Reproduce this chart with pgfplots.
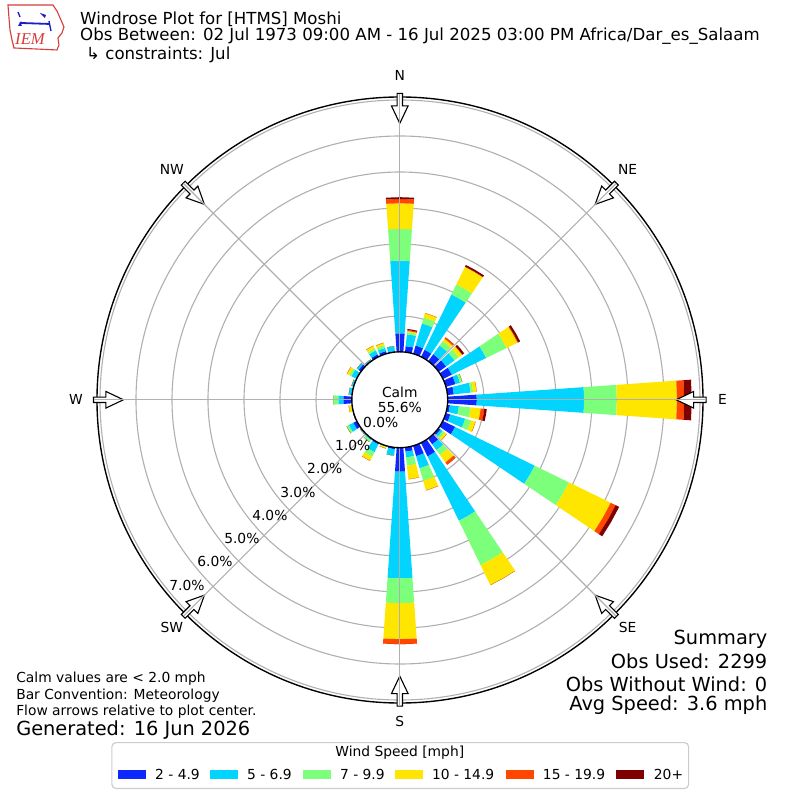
\documentclass[border=0pt]{standalone}
\usepackage{fontspec}
\setmainfont{DejaVu Sans}
\newfontfamily\logofont{Liberation Serif}
\usepackage{pgfplots}
\pgfplotsset{compat=1.18}
\usepackage{pgfplotstable}
\usepgfplotslibrary{polar}

\definecolor{bin1}{RGB}{13,40,255}
\definecolor{bin2}{RGB}{0,212,255}
\definecolor{bin3}{RGB}{124,255,122}
\definecolor{bin4}{RGB}{255,230,0}
\definecolor{bin5}{RGB}{255,71,0}
\definecolor{bin6}{RGB}{127,0,0}
\definecolor{ringgray}{RGB}{176,176,176}
\definecolor{logored}{RGB}{214,60,60}
\definecolor{logoblue}{RGB}{30,30,200}

% cumulative frequency [%] per direction, bins 2-4.9 ... 20+ mph
\pgfplotstableread{
dir c1   c2   c3   c4   c5   c6
0   0.52 2.54 3.42 4.13 4.25 4.30
10  0.17 0.50 0.56 0.59 0.62 0.65
20  0.24 0.88 1.05 1.18 1.18 1.18
30  0.22 1.93 2.24 2.78 2.79 2.84
40  0.24 0.54 0.69 0.77 0.82 0.82
50  0.25 0.54 0.68 0.80 0.81 0.87
60  0.27 1.33 1.96 2.30 2.32 2.38
70  0.27 0.40 0.47 0.47 0.47 0.47
80  0.17 0.64 0.71 0.81 0.81 0.81
90  0.80 3.78 4.69 6.36 6.56 6.77
100 0.06 0.31 0.64 0.92 1.02 1.09
110 0.12 0.55 0.72 0.85 0.85 0.85
120 0.37 2.83 3.89 5.18 5.33 5.44
130 0.06 0.13 0.20 0.27 0.27 0.27
140 0.19 0.39 0.56 0.81 0.89 0.89
150 0.41 2.40 3.77 4.39 4.39 4.39
160 0.29 0.64 1.00 1.28 1.28 1.28
170 0.11 0.27 0.50 0.88 0.88 0.88
180 0.66 3.62 4.31 5.31 5.45 5.45
190 0.04 0.22 0.22 0.22 0.22 0.22
200 0.01 0.02 0.03 0.07 0.07 0.07
210 0.04 0.28 0.42 0.55 0.55 0.55
220 0.02 0.05 0.11 0.11 0.11 0.11
230 0.02 0.04 0.04 0.04 0.04 0.04
240 0.11 0.25 0.32 0.32 0.32 0.32
250 0.02 0.02 0.02 0.02 0.02 0.02
260 0.01 0.02 0.03 0.10 0.10 0.10
270 0.24 0.38 0.52 0.52 0.52 0.52
280 0.03 0.10 0.10 0.10 0.10 0.10
290 0.01 0.07 0.07 0.07 0.07 0.07
300 0.03 0.17 0.23 0.31 0.31 0.31
310 0.09 0.15 0.15 0.15 0.15 0.15
320 0.03 0.06 0.06 0.06 0.06 0.06
330 0.08 0.20 0.26 0.35 0.35 0.35
340 0.08 0.17 0.25 0.32 0.32 0.32
350 0.03 0.17 0.17 0.17 0.17 0.17
}\rosedata

% radius of the calm circle, in percent units (48px / 36px per %)
\def\off{1.33333}

\begin{document}
\begin{tikzpicture}
\useasboundingbox (0,0) rectangle (8in,8in);

\begin{polaraxis}[
  at={(4in,4in)}, anchor=center,
  width=6.06in, height=6.06in, scale only axis,
  ymin=0, ymax=8.4167,
  xtick={0,45,...,315}, xticklabels={},
  ytick={2.33333,3.33333,4.33333,5.33333,6.33333,7.33333,8.33333},
  yticklabels={},
  xmajorgrids=false, ymajorgrids=true,
  major grid style={ringgray, line width=0.8pt},
  axis line style={black, line width=1pt},
  major tick length=0pt,
]
\pgfplotsforeachungrouped \i in {0,...,35}{%
  \pgfplotstablegetelem{\i}{dir}\of\rosedata
  \pgfmathsetmacro\aL{90-\pgfplotsretval-4}%
  \pgfmathsetmacro\aM{90-\pgfplotsretval}%
  \pgfmathsetmacro\aR{90-\pgfplotsretval+4}%
  \let\rin\off
  \pgfplotsforeachungrouped \k in {1,...,6}{%
    \edef\getit{\noexpand\pgfplotstablegetelem{\i}{c\k}\noexpand\of\noexpand\rosedata}%
    \getit
    \pgfmathsetmacro\rout{\pgfplotsretval+\off}%
    \edef\temp{\noexpand\addplot[draw=none, fill=bin\k, forget plot]
      coordinates {(\aL,\rin) (\aL,\rout) (\aM,\rout) (\aR,\rout) (\aR,\rin) (\aM,\rin)} -- cycle;}%
    \temp
    \let\rin\rout
  }%
}
\end{polaraxis}

\begin{scope}[shift={(0,8in)}, x=0.01in, y=-0.01in]
  % direction arrows, radial grid lines over them, calm circle
  \foreach \ang in {0,45,...,315}{
    \begin{scope}[shift={(400,400)}, rotate=-\ang]
      \draw[fill=white, line width=0.8pt] (0,-276.5) -- (8.3,-294) -- (2.7,-294) -- (2.7,-306.5)
        -- (-2.7,-306.5) -- (-2.7,-294) -- (-8.3,-294) -- cycle;
      \draw[ringgray, line width=0.8pt] (0,-45) -- (0,-306);
    \end{scope}
  }
  \draw[fill=white, line width=1pt] (400,400) circle[radius=48];
  \node[align=center, font=\fontsize{10}{11}\selectfont] at (400,400) {Calm\\55.6\%};

  % direction labels
  \begin{scope}[font=\fontsize{10}{12}\selectfont]
    \node at (400,76) {N};
    \node at (628,170) {NE};
    \node at (723,400) {E};
    \node at (628,628) {SE};
    \node at (400,722) {S};
    \node at (172,628) {SW};
    \node at (76,400) {W};
    \node at (172,170) {NW};
    % ring labels
    \node at (381,423) {0.0\%};
    \node at (353,446) {1.0\%};
    \node at (325,469) {2.0\%};
    \node at (298,493) {3.0\%};
    \node at (270,516) {4.0\%};
    \node at (242,539) {5.0\%};
    \node at (215,562) {6.0\%};
    \node at (187,586) {7.0\%};
  \end{scope}

  % logo
  \draw[logored, line width=0.8pt, fill=white] (8,5) -- (53,5) -- (57,11) -- (61,20) -- (64,27)
    -- (62,33) -- (58,38) -- (59,45) -- (57,50) -- (14,48) -- (12,40) -- (10,30) -- (9,18) -- cycle;
  \draw[logoblue, line width=1.3pt] (21,23) -- (50,24);
  \fill[logoblue] (21,23) circle[radius=1.6];
  \draw[logoblue, line width=1pt] (18,12) -- (20,17);
  \fill[logoblue] (40,13) -- (46,15) -- (45,18) -- cycle;
  \fill[logoblue] (18,26) -- (20,22.5) -- (22,26) -- cycle;
  \draw[logoblue, line width=1pt] (49,21) -- (51,31);
  \node[logored, font=\logofont\itshape\fontsize{12}{12}\selectfont] at (30,39) {IEM};

  % title
  \begin{scope}[font=\fontsize{12}{14}\selectfont]
    \node[anchor=west, inner sep=0pt] at (80,19) {Windrose Plot for [HTMS] Moshi};
    \node[anchor=west, inner sep=0pt] at (80,36) {Obs Between: 02 Jul 1973 09:00 AM - 16 Jul 2025 03:00 PM Africa/Dar\_es\_Salaam};
    \node[anchor=west, inner sep=0pt] at (86,55) {↳ constraints: Jul};
  \end{scope}

  % summary
  \begin{scope}[font=\fontsize{14}{16}\selectfont]
    \node[anchor=east, inner sep=0pt] at (768,640) {Summary};
    \node[anchor=east, inner sep=0pt] at (768,662) {Obs Used: 2299};
    \node[anchor=east, inner sep=0pt] at (768,685) {Obs Without Wind: 0};
    \node[anchor=east, inner sep=0pt] at (768,706) {Avg Speed: 3.6 mph};
    \node[anchor=west, inner sep=0pt] at (16,730) {Generated: 16 Jun 2026};
  \end{scope}
  \begin{scope}[font=\fontsize{10}{12}\selectfont]
    \node[anchor=west, inner sep=0pt] at (16,679) {Calm values are < 2.0 mph};
    \node[anchor=west, inner sep=0pt] at (16,696) {Bar Convention: Meteorology};
    \node[anchor=west, inner sep=0pt] at (16,712) {Flow arrows relative to plot center.};
  \end{scope}

  % legend
  \draw[black!20, line width=0.8pt, fill=white, rounded corners=3] (112,743) rectangle (689,789);
  \begin{scope}[font=\fontsize{10}{12}\selectfont]
    \node at (400,753) {Wind Speed [mph]};
    \foreach \px/\tx/\lab/\c in {118/155/{2 - 4.9}/bin1, 210/247/{5 - 6.9}/bin2,
        303/340/{7 - 9.9}/bin3, 395/432/{10 - 14.9}/bin4, 506/543/{15 - 19.9}/bin5, 616/654/{20+}/bin6}{
      \fill[\c] (\px,770) rectangle ++(28,9);
      \node[anchor=west, inner sep=0pt] at (\tx,774.5) {\lab};
    }
  \end{scope}
\end{scope}
\end{tikzpicture}
\end{document}
